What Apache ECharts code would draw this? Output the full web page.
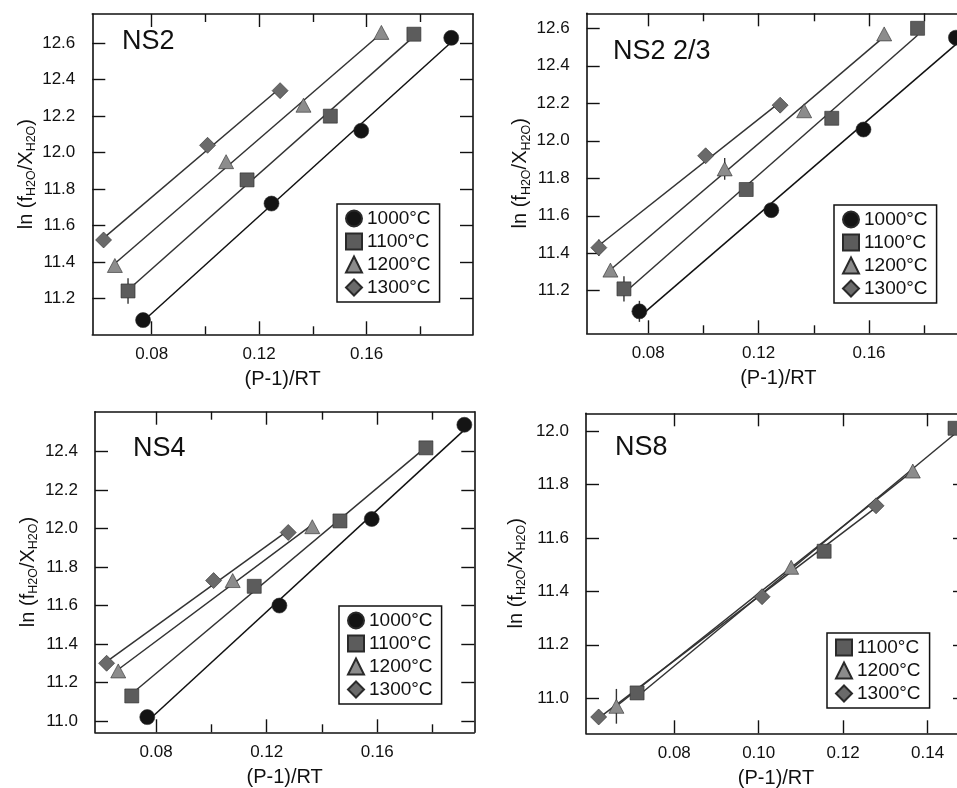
<!DOCTYPE html>
<html lang="en">
<head>
<meta charset="UTF-8">
<title>ln(fH2O/XH2O) vs (P-1)/RT</title>
<script src="https://cdn.jsdelivr.net/npm/echarts@6/dist/echarts.min.js"></script>
<style>
  html, body { margin: 0; padding: 0; background: #fff; }
  #chart { width: 957px; height: 788px; }
</style>
</head>
<body>
<div id="chart"></div>
<script type="text/javascript">
// --- data: [ (P-1)/RT , ln(fH2O/XH2O) ] ---
var tempNames = ['1000°C', '1100°C', '1200°C', '1300°C'];

// NS2
var ns2_1000 = [[0.0768, 11.08], [0.1246, 11.72], [0.1580, 12.12], [0.1915, 12.63]];
var ns2_1100 = [[0.0712, 11.24], [0.1155, 11.85], [0.1465, 12.20], [0.1776, 12.65]];
var ns2_1200 = [[0.0663, 11.38], [0.1077, 11.95], [0.1365, 12.26], [0.1655, 12.66]];
var ns2_1300 = [[0.0621, 11.52], [0.1008, 12.04], [0.1278, 12.34]];
var ns2_err = [[0.0712, 11.24, 0.07]];

// NS2 2/3
var ns23_1000 = [[0.0768, 11.09], [0.1246, 11.63], [0.1580, 12.06], [0.1915, 12.55]];
var ns23_1100 = [[0.0712, 11.21], [0.1155, 11.74], [0.1465, 12.12], [0.1776, 12.60]];
var ns23_1200 = [[0.0663, 11.31], [0.1077, 11.85], [0.1365, 12.16], [0.1655, 12.57]];
var ns23_1300 = [[0.0621, 11.43], [0.1008, 11.92], [0.1278, 12.19]];
var ns23_err = [[0.0768, 11.09, 0.056], [0.0712, 11.21, 0.067], [0.1077, 11.85, 0.058], [0.0621, 11.43, 0.044]];

// NS4
var ns4_1000 = [[0.0768, 11.02], [0.1246, 11.60], [0.1580, 12.05], [0.1915, 12.54]];
var ns4_1100 = [[0.0712, 11.13], [0.1155, 11.70], [0.1465, 12.04], [0.1776, 12.42]];
var ns4_1200 = [[0.0663, 11.26], [0.1077, 11.73], [0.1365, 12.01]];
var ns4_1300 = [[0.0621, 11.30], [0.1008, 11.73], [0.1278, 11.98]];
var ns4_err = [];

// NS8
var ns8_1100 = [[0.0712, 11.02], [0.1155, 11.55], [0.1465, 12.01]];
var ns8_1200 = [[0.0663, 10.97], [0.1077, 11.49], [0.1365, 11.85]];
var ns8_1300 = [[0.0621, 10.93], [0.1008, 11.38], [0.1278, 11.72]];
var ns8_err = [[0.0663, 10.97, 0.065]];

// tick labels
var xLabels = [0.08, 0.12, 0.16];
var xMinor = [0.10, 0.14, 0.18];
var xLabelsNS8 = [0.08, 0.10, 0.12, 0.14];
var yLabelsNS2 = [11.2, 11.4, 11.6, 11.8, 12.0, 12.2, 12.4, 12.6];
var yLabelsNS4 = [11.0, 11.2, 11.4, 11.6, 11.8, 12.0, 12.2, 12.4];
var yLabelsNS8 = [11.0, 11.2, 11.4, 11.6, 11.8, 12.0];

// --- styling ---
var FONT = '"Liberation Sans", Arial, Helvetica, sans-serif';
var INK = '#111';
var marks = {
    '1000°C': { symbol: 'circle', size: 15, color: '#141414', line: '#111' },
    '1100°C': { symbol: 'rect', size: 14, color: '#5c5c5c', line: '#333' },
    '1200°C': { symbol: 'triangle', size: [15, 14], color: '#8c8c8c', line: '#333' },
    '1300°C': { symbol: 'diamond', size: 16, color: '#6a6a6a', line: '#333' }
};

var panels = [
    { title: 'NS2', titleLeft: 122, titleTop: 28,
      left: 92.3, top: 14, width: 380.7, height: 320.3,
      xMin: 0.0579, xMax: 0.1996, yMin: 11.002, yMax: 12.761,
      xMajor: xLabels, xMinorTicks: xMinor, yTicks: yLabelsNS2, nameGap: 54,
      series: { '1000°C': ns2_1000, '1100°C': ns2_1100, '1200°C': ns2_1200, '1300°C': ns2_1300 },
      err: ns2_err, legendLeft: 337, legendTop: 204 },
    { title: 'NS2 2/3', titleLeft: 613, titleTop: 38,
      left: 586.7, top: 13.3, width: 383.3, height: 320,
      xMin: 0.0577, xMax: 0.1966, yMin: 10.973, yMax: 12.68,
      xMajor: xLabels, xMinorTicks: xMinor, yTicks: yLabelsNS2, nameGap: 53,
      series: { '1000°C': ns23_1000, '1100°C': ns23_1100, '1200°C': ns23_1200, '1300°C': ns23_1300 },
      err: ns23_err, legendLeft: 834, legendTop: 205 },
    { title: 'NS4', titleLeft: 133, titleTop: 435,
      left: 95, top: 411.7, width: 379.3, height: 320.6,
      xMin: 0.0579, xMax: 0.1951, yMin: 10.941, yMax: 12.608,
      xMajor: xLabels, xMinorTicks: xMinor, yTicks: yLabelsNS4, nameGap: 55,
      series: { '1000°C': ns4_1000, '1100°C': ns4_1100, '1200°C': ns4_1200, '1300°C': ns4_1300 },
      err: ns4_err, legendLeft: 339, legendTop: 606 },
    { title: 'NS8', titleLeft: 615, titleTop: 434,
      left: 586, top: 413.3, width: 380, height: 320,
      xMin: 0.0591, xMax: 0.1491, yMin: 10.869, yMax: 12.066,
      xMajor: xLabelsNS8, xMinorTicks: [], yTicks: yLabelsNS8, nameGap: 58,
      series: { '1100°C': ns8_1100, '1200°C': ns8_1200, '1300°C': ns8_1300 },
      err: ns8_err, legendLeft: 827, legendTop: 633 }
];

// least squares line through one temperature's points, drawn from first to last x
function fitLine(pts) {
    var n = pts.length, sx = 0, sy = 0, sxx = 0, sxy = 0;
    pts.forEach(function (p) { sx += p[0]; sy += p[1]; sxx += p[0] * p[0]; sxy += p[0] * p[1]; });
    var b = (n * sxy - sx * sy) / (n * sxx - sx * sx);
    var a = (sy - b * sx) / n;
    var x0 = pts[0][0], x1 = pts[n - 1][0];
    return [[x0, a + b * x0], [x1, a + b * x1]];
}

var axisLineStyle = { color: INK, width: 1.6 };
var tickStyle = { color: INK, width: 1.4 };
var labelStyle = { fontFamily: FONT, fontSize: 17, color: INK };

var grids = [], xAxes = [], yAxes = [], series = [], legends = [], titles = [];

panels.forEach(function (p, gi) {
    grids.push({ left: p.left, top: p.top, width: p.width, height: p.height,
                 containLabel: false, outerBoundsMode: 'none' });

    titles.push({ text: p.title, left: p.titleLeft, top: p.titleTop, padding: 0,
                  textStyle: { fontFamily: FONT, fontSize: 27, fontWeight: 'normal', color: INK } });

    // bottom: labelled ticks, minor ticks ; top: mirrored ticks
    var xBase = { gridIndex: gi, type: 'value', min: p.xMin, max: p.xMax, splitLine: { show: false } };
    xAxes.push(Object.assign({}, xBase, {
        position: 'bottom',
        axisLine: { show: true, onZero: false, lineStyle: axisLineStyle },
        axisTick: { inside: true, length: 13, customValues: p.xMajor, lineStyle: tickStyle },
        axisLabel: Object.assign({ customValues: p.xMajor, margin: 12,
                    formatter: function (v) { return v.toFixed(2); } }, labelStyle),
        name: '(P-1)/RT', nameLocation: 'middle', nameGap: 35,
        nameTextStyle: { fontFamily: FONT, fontSize: 20, color: INK }
    }));
    xAxes.push(Object.assign({}, xBase, {
        position: 'bottom',
        axisLine: { show: false },
        axisTick: { show: p.xMinorTicks.length > 0, inside: true, length: 8,
                    customValues: p.xMinorTicks.length ? p.xMinorTicks : p.xMajor, lineStyle: tickStyle },
        axisLabel: { show: false }
    }));
    xAxes.push(Object.assign({}, xBase, {
        position: 'top',
        axisLine: { show: true, onZero: false, lineStyle: axisLineStyle },
        axisTick: { inside: true, length: 13, customValues: p.xMajor, lineStyle: tickStyle },
        axisLabel: { show: false }
    }));
    xAxes.push(Object.assign({}, xBase, {
        position: 'top',
        axisLine: { show: false },
        axisTick: { show: p.xMinorTicks.length > 0, inside: true, length: 8,
                    customValues: p.xMinorTicks.length ? p.xMinorTicks : p.xMajor, lineStyle: tickStyle },
        axisLabel: { show: false }
    }));

    var yBase = { gridIndex: gi, type: 'value', min: p.yMin, max: p.yMax, splitLine: { show: false } };
    yAxes.push(Object.assign({}, yBase, {
        position: 'left',
        axisLine: { show: true, onZero: false, lineStyle: axisLineStyle },
        axisTick: { inside: true, length: 13, customValues: p.yTicks, lineStyle: tickStyle },
        axisLabel: Object.assign({ customValues: p.yTicks, margin: 17,
                    formatter: function (v) { return v.toFixed(1); } }, labelStyle),
        name: '{a|ln (f}{s|H2O}{a|/X}{s|H2O}{a|)}',
        nameLocation: 'middle', nameGap: p.nameGap,
        nameTextStyle: {
            rich: {
                a: { fontFamily: FONT, fontSize: 20, color: INK, lineHeight: 24, verticalAlign: 'middle' },
                s: { fontFamily: FONT, fontSize: 12.5, color: INK, lineHeight: 24, verticalAlign: 'bottom' }
            }
        }
    }));
    yAxes.push(Object.assign({}, yBase, {
        position: 'right',
        axisLine: { show: true, onZero: false, lineStyle: axisLineStyle },
        axisTick: { inside: true, length: 13, customValues: p.yTicks, lineStyle: tickStyle },
        axisLabel: { show: false }
    }));

    var names = Object.keys(p.series);
    names.forEach(function (name) {
        var m = marks[name];
        series.push({
            name: 'fit ' + name, type: 'line', xAxisIndex: gi * 4, yAxisIndex: gi * 2,
            data: fitLine(p.series[name]), showSymbol: false, silent: true, z: 2,
            lineStyle: { color: m.line, width: 1.5 }
        });
    });
    if (p.err.length) {
        series.push({
            type: 'custom', xAxisIndex: gi * 4, yAxisIndex: gi * 2, data: p.err, z: 3,
            encode: { x: 0, y: 1 },
            renderItem: function (params, api) {
                var x = api.value(0), y = api.value(1), e = api.value(2);
                var a = api.coord([x, y - e]), b = api.coord([x, y + e]);
                return { type: 'line', shape: { x1: a[0], y1: a[1], x2: b[0], y2: b[1] },
                         style: { stroke: '#333', lineWidth: 1.4 } };
            }
        });
    }
    names.forEach(function (name) {
        var m = marks[name];
        series.push({
            name: name, type: 'scatter', xAxisIndex: gi * 4, yAxisIndex: gi * 2,
            data: p.series[name], symbol: m.symbol, symbolSize: m.size, z: 4,
            itemStyle: { color: m.color, borderColor: '#2a2a2a', borderWidth: 0.6, opacity: 1 }
        });
    });

    legends.push({
        orient: 'vertical', left: p.legendLeft, top: p.legendTop,
        data: names, selectedMode: false,
        itemWidth: 16, itemHeight: 16, itemGap: 4,
        padding: [5, 9, 5, 8],
        borderColor: INK, borderWidth: 1.5, backgroundColor: '#fff',
        textStyle: { fontFamily: FONT, fontSize: 19, color: INK, lineHeight: 19 }
    });
});

var chart = echarts.init(document.getElementById('chart'), null, { renderer: 'canvas' });
chart.setOption({
    backgroundColor: '#fff',
    animation: false,
    title: titles,
    grid: grids,
    xAxis: xAxes,
    yAxis: yAxes,
    legend: legends,
    series: series
});
</script>
</body>
</html>
